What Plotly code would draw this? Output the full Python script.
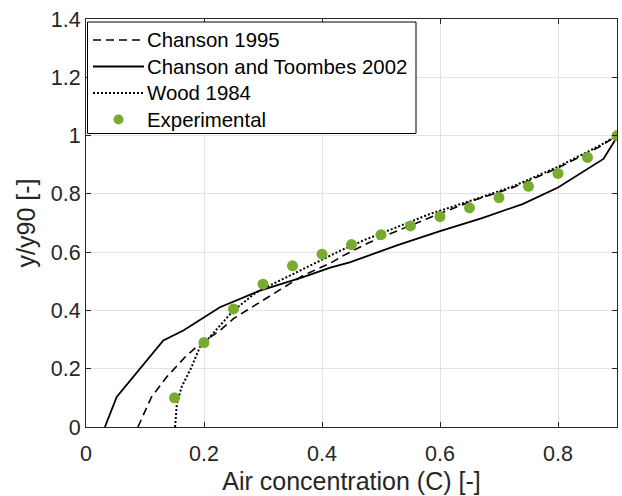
import plotly.graph_objects as go

# Chanson (1995) air concentration profile
chanson95_c = [0.088, 0.111, 0.137, 0.168, 0.193, 0.227, 0.25, 0.295, 0.34, 0.368,
               0.414, 0.436, 0.481, 0.529, 0.577, 0.656, 0.724, 0.8, 0.871, 0.9]
chanson95_y = [0.0, 0.103, 0.172, 0.24, 0.285, 0.331, 0.372, 0.428, 0.486, 0.52,
               0.562, 0.588, 0.634, 0.674, 0.714, 0.777, 0.822, 0.889, 0.962, 1.0]

# Chanson and Toombes (2002) profile
toombes_c = [0.032, 0.052, 0.131, 0.165, 0.227, 0.295, 0.368, 0.414, 0.447, 0.527,
             0.6, 0.67, 0.74, 0.8, 0.877, 0.9]
toombes_y = [0.0, 0.103, 0.297, 0.331, 0.411, 0.468, 0.514, 0.547, 0.565, 0.623,
             0.672, 0.716, 0.765, 0.822, 0.92, 0.995]

# Wood (1984) profile
wood_c = [0.151, 0.154, 0.162, 0.179, 0.193, 0.21, 0.25, 0.289, 0.34, 0.397,
          0.431, 0.47, 0.527, 0.583, 0.662, 0.724, 0.8, 0.871, 0.9]
wood_y = [0.0, 0.08, 0.137, 0.206, 0.274, 0.309, 0.40, 0.463, 0.514, 0.571,
          0.605, 0.64, 0.685, 0.731, 0.783, 0.826, 0.893, 0.966, 1.0]

# Measured air concentration
exp_c = [0.15, 0.2, 0.25, 0.3, 0.35, 0.4, 0.45, 0.5, 0.55, 0.6, 0.65, 0.7,
         0.75, 0.8, 0.85, 0.9]
exp_y = [0.10, 0.29, 0.405, 0.49, 0.553, 0.593, 0.626, 0.66, 0.69, 0.722, 0.752,
         0.787, 0.826, 0.87, 0.925, 1.0]

x_ticks = [0, 0.2, 0.4, 0.6, 0.8]
y_ticks = [0, 0.2, 0.4, 0.6, 0.8, 1.0, 1.2, 1.4]

legend_names = ["Chanson 1995", "Chanson and Toombes 2002", "Wood 1984", "Experimental"]

FONT = "Liberation Sans, Arial, Helvetica, sans-serif"
AX = "#262626"
GREEN = "rgb(119,172,48)"

W, H = 622, 496
M_L, M_R, M_T, M_B = 86, 5, 19, 69
PW, PH = W - M_L - M_R, H - M_T - M_B

styles = [
    dict(color="black", width=1.6, dash="8px,5px"),
    dict(color="black", width=1.8),
    dict(color="black", width=2, dash="2px,2px"),
]

fig = go.Figure()
fig.add_trace(go.Scatter(x=chanson95_c, y=chanson95_y, mode="lines",
                         name=legend_names[0], line=styles[0]))
fig.add_trace(go.Scatter(x=toombes_c, y=toombes_y, mode="lines",
                         name=legend_names[1], line=styles[1]))
fig.add_trace(go.Scatter(x=wood_c, y=wood_y, mode="lines",
                         name=legend_names[2], line=styles[2]))
fig.add_trace(go.Scatter(x=exp_c, y=exp_y, mode="markers", name=legend_names[3],
                         marker=dict(color=GREEN, size=11, line=dict(width=0))))


# pixel -> paper helpers for the boxed legend in the upper-left corner
def px(x):
    return (x - M_L) / PW


def py(y):
    return (H - M_B - y) / PH


shapes = [dict(type="rect", xref="paper", yref="paper",
               x0=px(87.5), x1=px(416), y0=py(133.5), y1=py(22),
               line=dict(color="black", width=1), fillcolor="white", layer="above")]
annotations = []
row_y = [40, 66.5, 93, 119.5]
for i, name in enumerate(legend_names):
    yc = py(row_y[i])
    if i < 3:
        shapes.append(dict(type="line", xref="paper", yref="paper",
                           x0=px(93), x1=px(144), y0=yc, y1=yc,
                           line=styles[i], layer="above"))
    else:
        shapes.append(dict(type="circle", xref="paper", yref="paper",
                           x0=px(113.5), x1=px(123.5), y0=py(row_y[i] + 5),
                           y1=py(row_y[i] - 5),
                           line=dict(width=0), fillcolor=GREEN, layer="above"))
    annotations.append(dict(xref="paper", yref="paper", x=px(145), y=yc,
                            xanchor="left", yanchor="middle", showarrow=False,
                            text=name,
                            font=dict(family=FONT, size=20.4, color="black")))

axis_common = dict(
    showgrid=True, gridcolor="#e3e3e3", gridwidth=1,
    showline=True, linecolor=AX, linewidth=1, mirror="ticks",
    ticks="inside", ticklen=5, tickcolor=AX, tickwidth=1,
    zeroline=False,
    tickfont=dict(family=FONT, size=21.5, color=AX),
)

fig.update_xaxes(range=[0, 0.9], tickvals=x_ticks, ticktext=[f"{v:g}" for v in x_ticks],
                 ticklabelstandoff=7,
                 title=dict(text="Air concentration (C) [-]", standoff=7,
                            font=dict(family=FONT, size=25, color=AX)),
                 **axis_common)
fig.update_yaxes(range=[0, 1.4], tickvals=y_ticks, ticktext=[f"{v:g}" for v in y_ticks],
                 title=dict(text="y/y90 [-]", standoff=8,
                            font=dict(family=FONT, size=25, color=AX)),
                 **axis_common)

fig.update_layout(
    width=W, height=H,
    margin=dict(l=M_L, r=M_R, t=M_T, b=M_B, autoexpand=False),
    paper_bgcolor="white", plot_bgcolor="white",
    showlegend=False,
    shapes=shapes, annotations=annotations,
)

fig.write_html("out.html")
